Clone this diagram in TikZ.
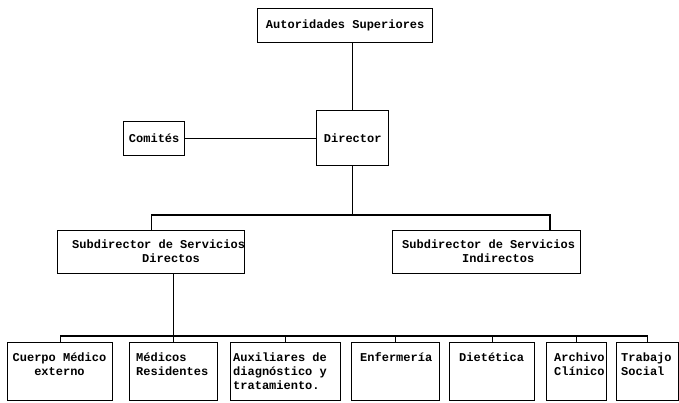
\documentclass[tikz,border=0pt]{standalone}
\usepackage{fontspec}
\setmonofont{Liberation Mono}
\begin{document}
\begin{tikzpicture}[x=1pt,y=-1pt,
  txtfont/.style={font=\ttfamily\bfseries\fontsize{12}{14}\selectfont},
  box/.style={draw, line width=1.4pt, inner sep=0pt, anchor=north west, txtfont},
  lbl/.style={inner sep=0pt, anchor=north west, align=left, txtfont},
  link/.style={line width=1.4pt}]
\useasboundingbox[fill=white] (0,0) rectangle (679,402);
% top levels
\node[box, minimum width=175pt, minimum height=34pt] (aut) at (257,8) {Autoridades Superiores};
\node[box, minimum width=72pt, minimum height=55pt] (dir) at (316,110) {Director};
\node[box, minimum width=61pt, minimum height=34pt] (com) at (123,121) {Comités};
\node[box, minimum width=187pt, minimum height=43pt] (sdd) at (57,230) {};
\node[box, minimum width=188pt, minimum height=43pt] (sdi) at (392,230) {};
\node[lbl] (sddt) at (72,237) {\rule{0pt}{11pt}Subdirector de Servicios\\\hspace*{70pt}Directos};
\node[lbl] (sdit) at (402,237) {\rule{0pt}{11pt}Subdirector de Servicios\\\hspace*{60pt}Indirectos};
% bottom boxes
\node[box, minimum width=105pt, minimum height=58pt] (b1) at (7,342) {};
\node[box, minimum width=88pt, minimum height=58pt] (b2) at (129,342) {};
\node[box, minimum width=110pt, minimum height=58pt] (b3) at (230,342) {};
\node[box, minimum width=88pt, minimum height=58pt] (b4) at (351,342) {};
\node[box, minimum width=85pt, minimum height=58pt] (b5) at (449,342) {};
\node[box, minimum width=60pt, minimum height=58pt] (b6) at (546,342) {};
\node[box, minimum width=62pt, minimum height=58pt] (b7) at (616,342) {};
\node[lbl, align=center, anchor=north] (t1) at (59.5,350) {\rule{0pt}{11pt}Cuerpo Médico\\externo};
\node[lbl] (t2) at (136,350) {\rule{0pt}{11pt}Médicos\\Residentes};
\node[lbl] (t3) at (233,350) {\rule{0pt}{11pt}Auxiliares de\\diagnóstico y\\tratamiento.};
\node[lbl] (t4) at (360,350) {\rule{0pt}{11pt}Enfermería};
\node[lbl] (t5) at (459,350) {\rule{0pt}{11pt}Dietética};
\node[lbl] (t6) at (554,350) {\rule{0pt}{11pt}Archivo\\Clínico};
\node[lbl] (t7) at (621,350) {\rule{0pt}{11pt}Trabajo\\Social};
% connectors
\draw[link] (dir.north) -- (dir.north |- aut.south);
\draw[link] (com.east) -- (com.east -| dir.west);
\coordinate (j1) at (351,215);
\coordinate (ri) at (550,230);
\draw[link] (dir.south) -- (dir.south |- j1);
\draw[link] (sdd.north) |- (j1) -| (ri);
\coordinate (bl) at (0,336);
\draw[link] (b2.north |- sdd.south) -- (b2.north);
\draw[link] (b1.north |- bl) -- (b7.north |- bl);
\foreach \b in {b1,b3,b4,b5,b6,b7} \draw[link] (\b.north |- bl) -- (\b.north);
\end{tikzpicture}
\end{document}
